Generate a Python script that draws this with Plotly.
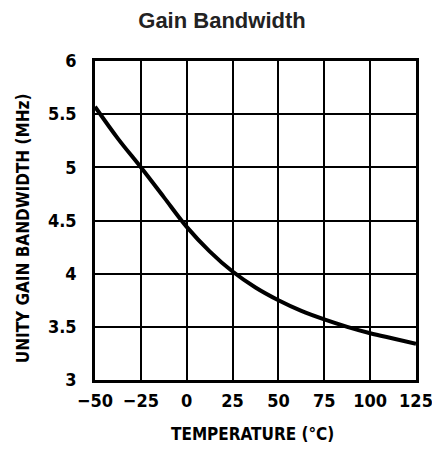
import plotly.graph_objects as go

temp_c = [-50, -37.5, -25, -12.5, 0, 12.5, 25, 37.5, 50, 62.5, 75, 87.5, 100, 112.5, 125]
gbw_mhz = [5.57, 5.27, 5.0, 4.72, 4.44, 4.21, 4.02, 3.87, 3.75, 3.65, 3.57, 3.50, 3.44, 3.39, 3.34]

x_ticks = [-50, -25, 0, 25, 50, 75, 100, 125]
x_tick_labels = ["\u221250", "\u221225", "0", "25", "50", "75", "100", "125"]
y_ticks = [3, 3.5, 4, 4.5, 5, 5.5, 6]
y_tick_labels = ["3", "3.5", "4", "4.5", "5", "5.5", "6"]

narrow = "DejaVu Sans Condensed, Liberation Sans Narrow, sans-serif"

fig = go.Figure()
fig.add_trace(go.Scatter(
    x=temp_c, y=gbw_mhz, mode="lines",
    line=dict(color="black", width=4, shape="spline", smoothing=1.0),
    showlegend=False, hoverinfo="skip",
))

fig.update_layout(
    width=432, height=451,
    margin=dict(l=95, r=16, t=61, b=71),
    paper_bgcolor="white", plot_bgcolor="white",
    title=dict(text="<b>Gain Bandwidth</b>", x=222.0 / 432, xanchor="center",
               y=1 - (20.0 / 451), yanchor="middle",
               font=dict(family="Liberation Sans, Arial, sans-serif", size=22, color="#222")),
    annotations=[
        dict(text="<b>UNITY GAIN BANDWIDTH (MHz)</b>", textangle=-90,
             xref="paper", yref="paper", x=-0.224, y=0.476,
             xanchor="center", yanchor="middle", showarrow=False,
             font=dict(family=narrow, size=17, color="black")),
        dict(text="<b>TEMPERATURE (°C)</b>",
             xref="paper", yref="paper", x=0.492, y=-0.169,
             xanchor="center", yanchor="middle", showarrow=False,
             font=dict(family=narrow, size=17, color="black")),
    ],
)
fig.update_xaxes(
    range=[-50, 125], tickvals=x_ticks, ticktext=x_tick_labels,
    showgrid=True, gridcolor="black", gridwidth=1.5,
    showline=True, linecolor="black", linewidth=2.5, mirror=True,
    zeroline=False, ticks="", ticklen=0, ticklabelstandoff=3,
    ticklabeloverflow="allow", automargin=False,
    tickfont=dict(family=narrow, size=18, color="black", weight="bold"),
)
fig.update_yaxes(
    range=[3, 6], tickvals=y_ticks, ticktext=y_tick_labels,
    showgrid=True, gridcolor="black", gridwidth=1.5,
    showline=True, linecolor="black", linewidth=2.5, mirror=True,
    zeroline=False, ticks="", ticklen=0, ticklabelstandoff=12,
    automargin=False,
    tickfont=dict(family=narrow, size=18, color="black", weight="bold"),
)

fig.write_html(
    "out.html",
    config={"displayModeBar": False},
    post_script="document.body.style.margin='0';document.documentElement.style.overflow='hidden';",
)
